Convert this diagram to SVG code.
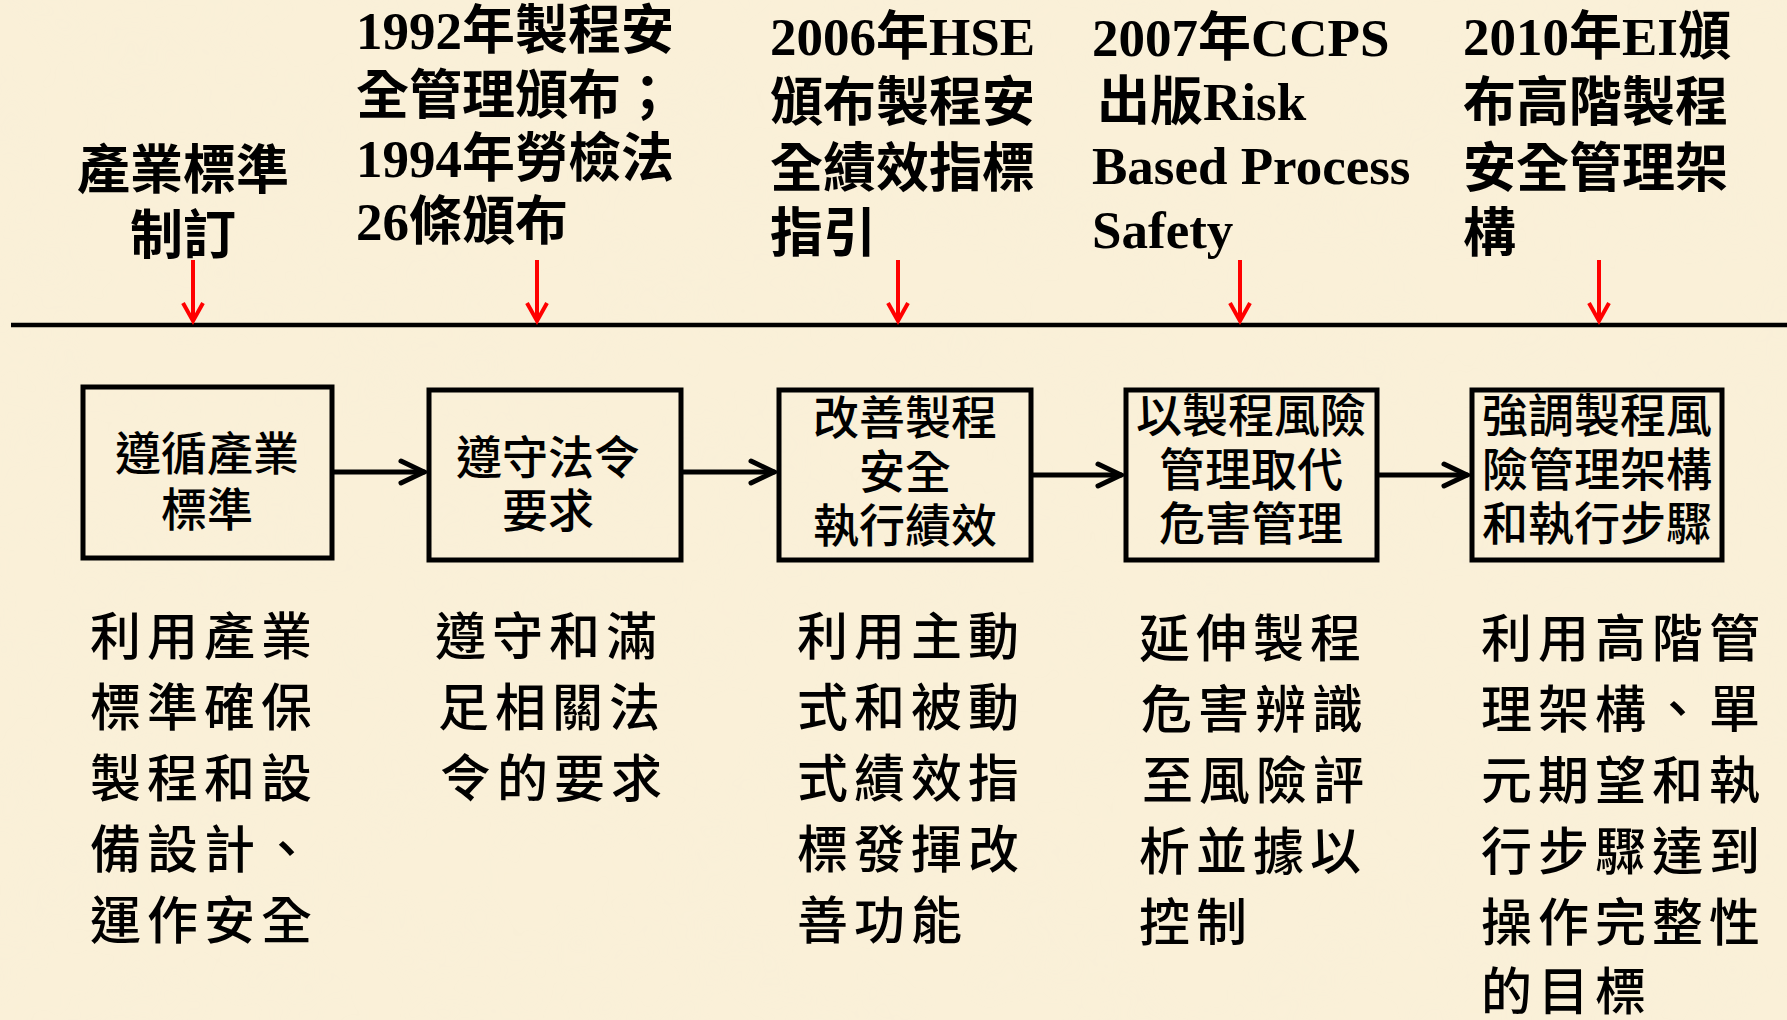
<svg xmlns="http://www.w3.org/2000/svg" width="1787" height="1020" viewBox="0 0 1787 1020">
<defs>
<style>
.top{font-family:"Liberation Serif","Noto Sans CJK TC",serif;font-weight:700;font-size:53px;fill:#000}
.box{fill:none;stroke:#000;stroke-width:5}
.bt{font-family:"Noto Sans CJK TC",sans-serif;font-weight:500;font-size:46px;fill:#000;text-anchor:middle}
.desc{font-family:"Noto Sans CJK TC",sans-serif;font-weight:500;font-size:51px;letter-spacing:6px;fill:#000}
.red{stroke:#FF0000;stroke-width:4;fill:none}
.blk{stroke:#000;stroke-width:5;fill:none;stroke-linecap:round}
</style>
<filter id="paper" x="0" y="0" width="100%" height="100%">
<feTurbulence type="fractalNoise" baseFrequency="0.012" numOctaves="3" seed="7" result="n"/>
<feColorMatrix in="n" type="matrix" values="0 0 0 0 0.93  0 0 0 0 0.86  0 0 0 0 0.70  0 0 0 0.9 -0.3"/>
</filter>
</defs>
<rect width="1787" height="1020" fill="#FAF0D8"/>
<rect width="1787" height="1020" filter="url(#paper)" opacity="0.35"/>

<g id="timeline">
<line x1="11" y1="325" x2="1787" y2="325" stroke="#000" stroke-width="4.5"/>
</g>

<g id="label-1">
<text class="top" x="183" y="189" text-anchor="middle">產業標準</text>
<text class="top" x="183" y="254" text-anchor="middle">制訂</text>
</g>
<g id="label-2">
<text class="top" x="356" y="49">1992年製程安</text>
<text class="top" x="356" y="114">全管理頒布；</text>
<text class="top" x="356" y="177">1994年勞檢法</text>
<text class="top" x="356" y="240">26條頒布</text>
</g>
<g id="label-3">
<text class="top" x="770" y="55">2006年HSE</text>
<text class="top" x="770" y="121">頒布製程安</text>
<text class="top" x="770" y="187">全績效指標</text>
<text class="top" x="770" y="252">指引</text>
</g>
<g id="label-4">
<text class="top" x="1092" y="56">2007年CCPS</text>
<text class="top" x="1097" y="120">出版Risk</text>
<text class="top" x="1092" y="184">Based Process</text>
<text class="top" x="1092" y="248">Safety</text>
</g>
<g id="label-5">
<text class="top" x="1463" y="55">2010年EI頒</text>
<text class="top" x="1463" y="121">布高階製程</text>
<text class="top" x="1463" y="187">安全管理架</text>
<text class="top" x="1463" y="252">構</text>
</g>

<g id="node-1">
<rect class="box" x="83" y="387" width="249" height="171"/>
<text class="bt" x="207" y="470">遵循產業</text>
<text class="bt" x="207" y="526">標準</text>
</g>
<g id="node-2">
<rect class="box" x="429" y="390" width="252" height="170"/>
<text class="bt" x="548" y="474">遵守法令</text>
<text class="bt" x="548" y="527">要求</text>
</g>
<g id="node-3">
<rect class="box" x="779" y="390" width="252" height="170"/>
<text class="bt" x="905" y="434">改善製程</text>
<text class="bt" x="905" y="488">安全</text>
<text class="bt" x="905" y="542">執行績效</text>
</g>
<g id="node-4">
<rect class="box" x="1126" y="390" width="251" height="170"/>
<text class="bt" x="1251" y="432">以製程風險</text>
<text class="bt" x="1251" y="486">管理取代</text>
<text class="bt" x="1251" y="540">危害管理</text>
</g>
<g id="node-5">
<rect class="box" x="1472" y="390" width="250" height="170"/>
<text class="bt" x="1597" y="432">強調製程風</text>
<text class="bt" x="1597" y="486">險管理架構</text>
<text class="bt" x="1597" y="540">和執行步驟</text>
</g>

<g id="desc-1" class="desc">
<text x="90" y="655">利用產業</text>
<text x="90" y="726">標準確保</text>
<text x="90" y="797">製程和設</text>
<text x="90" y="868">備設計、</text>
<text x="90" y="939">運作安全</text>
</g>
<g id="desc-2" class="desc">
<text x="435" y="655">遵守和滿</text>
<text x="438" y="726">足相關法</text>
<text x="440" y="797">令的要求</text>
</g>
<g id="desc-3" class="desc">
<text x="797" y="655">利用主動</text>
<text x="797" y="726">式和被動</text>
<text x="797" y="797">式績效指</text>
<text x="797" y="868">標發揮改</text>
<text x="797" y="939">善功能</text>
</g>
<g id="desc-4" class="desc">
<text x="1139" y="657">延伸製程</text>
<text x="1141" y="728">危害辨識</text>
<text x="1142" y="799">至風險評</text>
<text x="1139" y="870">析並據以</text>
<text x="1139" y="941">控制</text>
</g>
<g id="desc-5" class="desc">
<text x="1481" y="657">利用高階管</text>
<text x="1481" y="728">理架構、單</text>
<text x="1481" y="799">元期望和執</text>
<text x="1481" y="870">行步驟達到</text>
<text x="1481" y="941">操作完整性</text>
<text x="1481" y="1010">的目標</text>
</g>

<g id="connectors">
<g class="red">
<line x1="193" y1="260" x2="193" y2="321"/><path d="M183,303 L193,321 L203,303"/>
<line x1="537" y1="260" x2="537" y2="321"/><path d="M527,303 L537,321 L547,303"/>
<line x1="898" y1="260" x2="898" y2="321"/><path d="M888,303 L898,321 L908,303"/>
<line x1="1240" y1="260" x2="1240" y2="321"/><path d="M1230,303 L1240,321 L1250,303"/>
<line x1="1599" y1="260" x2="1599" y2="321"/><path d="M1589,303 L1599,321 L1609,303"/>
</g>
<g class="blk">
<line x1="334" y1="472" x2="424" y2="472"/><path d="M401,461 L424,472 L401,483"/>
<line x1="683" y1="472" x2="774" y2="472"/><path d="M751,461 L774,472 L751,483"/>
<line x1="1033" y1="475" x2="1121" y2="475"/><path d="M1098,464 L1121,475 L1098,486"/>
<line x1="1379" y1="475" x2="1467" y2="475"/><path d="M1444,464 L1467,475 L1444,486"/>
</g>
</g>
</svg>
